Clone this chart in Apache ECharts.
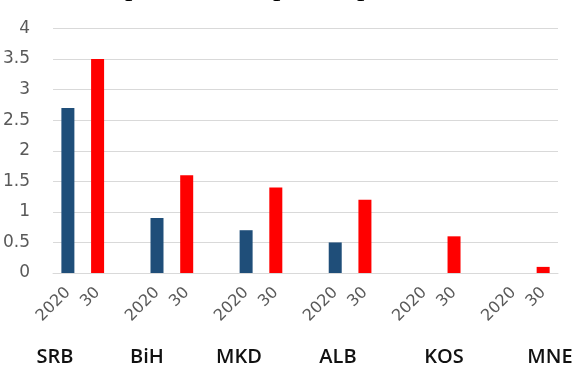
<!DOCTYPE html>
<html>
<head>
<meta charset="utf-8">
<script src="https://cdn.jsdelivr.net/npm/echarts@6/dist/echarts.min.js"></script>
<style>
  html, body { margin: 0; padding: 0; background: #fff; }
  #chart { width: 577px; height: 365px; }
</style>
</head>
<body>
<div id="chart"></div>
<script>
// Countries and their values for 2020 and 2030
const countries = ['SRB', 'BiH', 'MKD', 'ALB', 'KOS', 'MNE'];
const yearLabels = ['2020', '30'];
const values2020 = [2.7, 0.9, 0.7, 0.5, null, null];
const values2030 = [3.5, 1.6, 1.4, 1.2, 0.6, 0.1];
const yTicks = { min: 0, max: 4, step: 0.5 };

// Each country gets a 2020 slot and a 2030 slot, with an empty slot between countries
const slots = [];
const s2020 = [];
const s2030 = [];
countries.forEach((c, i) => {
  if (i > 0) { slots.push(''); s2020.push(null); s2030.push(null); }
  slots.push(yearLabels[0]); s2020.push(values2020[i]); s2030.push(null);
  slots.push(yearLabels[1]); s2020.push(null); s2030.push(values2030[i]);
});

// Horizontal centres of the country captions along the bottom
const captionX = [55, 147, 239, 338, 444, 550];
// Stray glyphs from a heading that is cropped off at the top edge
const headingX = [125, 273, 357];

const chart = echarts.init(document.getElementById('chart'), null, { renderer: 'canvas' });

const graphics = countries.map((c, i) => ({
  type: 'text',
  x: captionX[i],
  y: 357,
  style: {
    text: c,
    font: '600 20px "Open Sans"',
    fill: '#111111',
    textAlign: 'center',
    textVerticalAlign: 'middle'
  }
})).concat(headingX.map(x => ({
  type: 'text',
  x: x,
  y: -13,
  style: {
    text: 'p',
    font: '30px "Liberation Serif"',
    fill: '#000000',
    textAlign: 'left',
    textVerticalAlign: 'middle'
  }
})));

chart.setOption({
  animation: false,
  backgroundColor: '#ffffff',
  grid: { left: 52, right: 19, top: 28.5, bottom: 92, containLabel: false },
  xAxis: {
    type: 'category',
    data: slots,
    boundaryGap: true,
    axisLine: { show: true, lineStyle: { color: '#d9d9d9', width: 1 } },
    axisTick: { show: false },
    splitLine: { show: false },
    axisLabel: {
      interval: 0,
      rotate: 45,
      margin: 17,
      color: '#595959',
      fontFamily: 'DejaVu Sans',
      fontSize: 16
    }
  },
  yAxis: {
    type: 'value',
    min: yTicks.min,
    max: yTicks.max,
    interval: yTicks.step,
    axisLine: { show: false },
    axisTick: { show: false },
    splitLine: { show: true, lineStyle: { color: '#d9d9d9', width: 1 } },
    axisLabel: {
      margin: 23,
      color: '#595959',
      fontFamily: 'DejaVu Sans',
      fontSize: 17
    }
  },
  series: [
    {
      name: '2020',
      type: 'bar',
      stack: 'pair',
      data: s2020,
      barWidth: 13,
      itemStyle: { color: '#1f4e79' }
    },
    {
      name: '2030',
      type: 'bar',
      stack: 'pair',
      data: s2030,
      barWidth: 13,
      itemStyle: { color: '#ff0000' }
    }
  ],
  graphic: graphics
});
</script>
</body>
</html>
